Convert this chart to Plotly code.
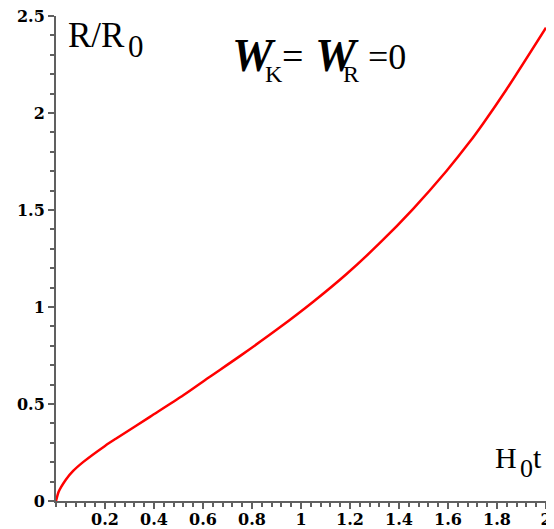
import plotly.graph_objects as go

# Data
h0t = [0.0, 0.01, 0.02, 0.04, 0.07, 0.113, 0.2, 0.249, 0.385, 0.521, 0.622,
       0.752, 0.914, 1.05, 1.186, 1.322, 1.457, 1.593, 1.688, 1.743, 1.838, 2.0]
r_over_r0 = [0.0, 0.045, 0.07, 0.11, 0.155, 0.203, 0.284, 0.325, 0.435, 0.546, 0.635,
             0.748, 0.895, 1.027, 1.170, 1.330, 1.505, 1.700, 1.850, 1.945, 2.120, 2.44]

x_tickvals = [0.2, 0.4, 0.6, 0.8, 1.0, 1.2, 1.4, 1.6, 1.8, 2.0]
x_ticktext = ["0.2", "0.4", "0.6", "0.8", "1", "1.2", "1.4", "1.6", "1.8", "2"]
y_tickvals = [0, 0.5, 1.0, 1.5, 2.0, 2.5]
y_ticktext = ["0", "0.5", "1", "1.5", "2", "2.5"]

# the page body has an 8px margin; size the figure so the plot lands where the reference has it
OFF = 8
W, H = 554 - OFF, 529 - OFF
L, R, T, B = 56 - OFF, 8, 16 - OFF, 28
PW, PH = W - L - R, H - T - B


def px(xp):
    return (xp - OFF - L) / PW


def py(yp):
    return (H - B - (yp - OFF)) / PH


fig = go.Figure()
fig.add_trace(go.Scatter(x=h0t, y=r_over_r0, mode="lines",
                         line=dict(color="#ff0000", width=2.5, shape="spline", smoothing=0.8),
                         hoverinfo="skip", showlegend=False, cliponaxis=False))

axcol = "#606060"
tickfont = dict(family="DejaVu Serif", size=16, color="black", weight="bold")

common = dict(showline=True, linecolor=axcol, linewidth=2, showgrid=False, zeroline=False,
              automargin=False, ticklabeloverflow="allow", tickmode="array",
              ticks="outside", ticklen=6, tickwidth=1.5, tickcolor=axcol, tickfont=tickfont)

fig.update_xaxes(range=[0, 2.0001], tickvals=x_tickvals, ticktext=x_ticktext,
                 ticklabelstandoff=-3,
                 minor=dict(tickmode="linear", tick0=0, dtick=0.04, ticks="outside",
                            ticklen=4, tickwidth=1.5, tickcolor=axcol, showgrid=False),
                 **common)
fig.update_yaxes(range=[0, 2.5], tickvals=y_tickvals, ticktext=y_ticktext,
                 minor=dict(tickmode="linear", tick0=0, dtick=0.1, ticks="outside",
                            ticklen=4, tickwidth=1.5, tickcolor=axcol, showgrid=False),
                 **common)

serif = "Liberation Serif"
# (text, left px, cap-centre px, font size) in page pixels
anns = [
    ("R/R", 66, 41, 35),
    ("0", 126, 51, 31),
    ("H", 493, 462, 30),
    ("0", 518, 472, 26),
    ("t", 531, 462, 30),
    ("<b><i>W</i></b>", 230, 62, 46),
    ("K", 263, 78, 24),
    ("=", 280, 62, 38),
    ("<b><i>W</i></b>", 313, 62, 46),
    ("R", 341, 78, 24),
    ("=0", 366, 62, 36),
]
for text, xl, yc, size in anns:
    fig.add_annotation(text=text, x=px(xl), y=py(yc - 0.15 * size), xref="paper", yref="paper",
                       xanchor="left", yanchor="middle", showarrow=False,
                       font=dict(family=serif, size=size, color="black"))

fig.update_layout(width=W, height=H, margin=dict(l=L, r=R, t=T, b=B),
                  plot_bgcolor="white", paper_bgcolor="white")

fig.write_html("out.html")
